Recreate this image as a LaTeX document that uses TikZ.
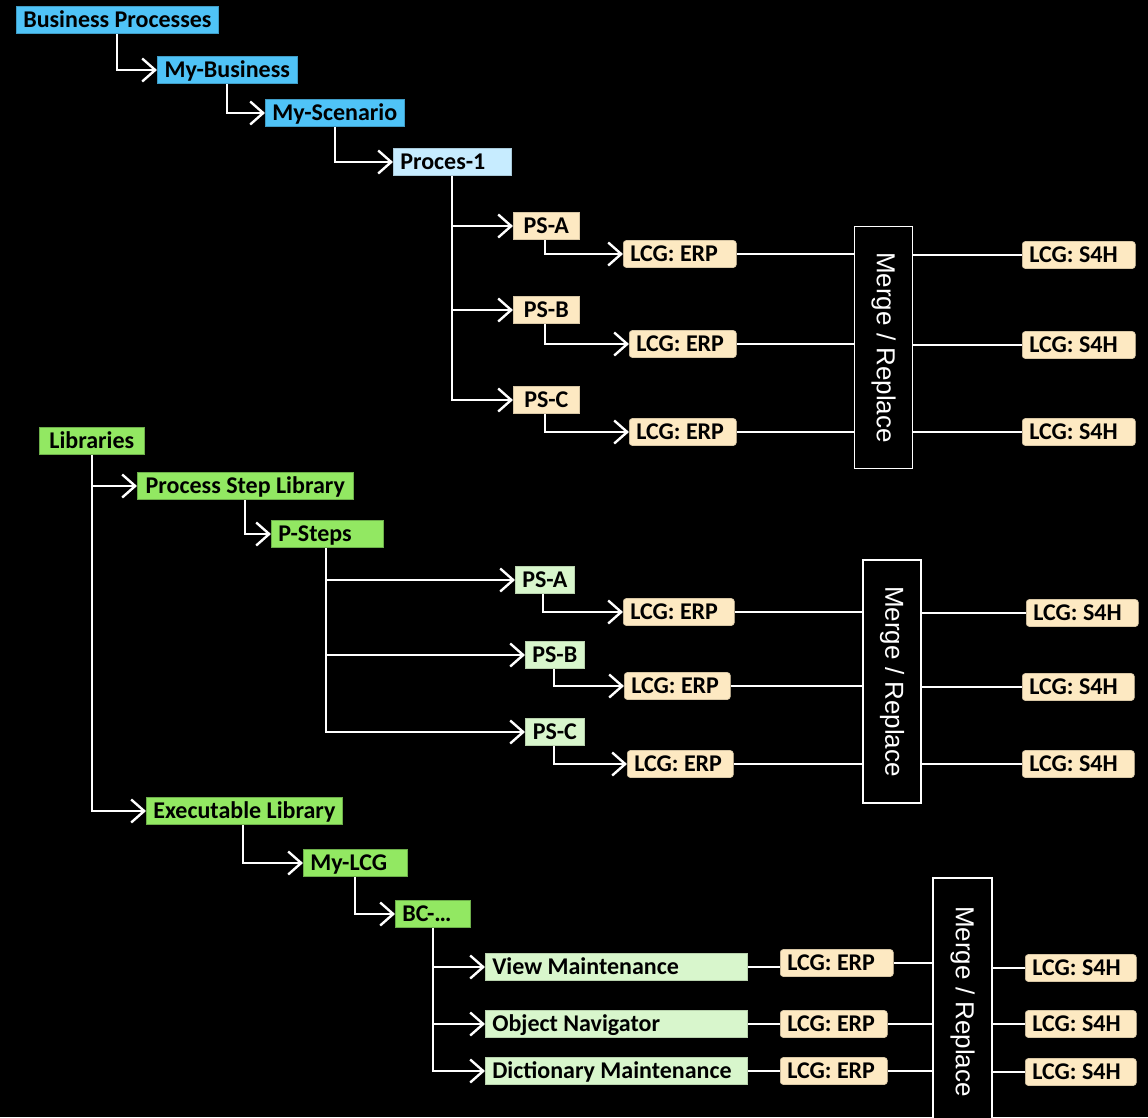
\documentclass[tikz,border=0pt]{standalone}
\usepackage{fontspec}
\setmainfont{Carlito}
\newfontfamily\arialfont{Liberation Sans}
\usepackage{graphicx}
\usetikzlibrary{arrows.meta}
\definecolor{bpblue}{RGB}{79,195,247}
\definecolor{proclight}{RGB}{199,236,255}
\definecolor{libgreen}{RGB}{146,232,98}
\definecolor{steplight}{RGB}{216,246,204}
\definecolor{lcgorange}{RGB}{253,233,194}
\tikzset{box/.style={anchor=west, inner xsep=7pt, inner ysep=0pt,
   minimum height=27pt, text height=17pt, text depth=2pt, line width=0.6pt,
   font=\bfseries\fontsize{24}{28}\selectfont},
 lw/.style={text width=#1, align=flush left},
 bpbox/.style={box, fill=bpblue, draw=bpblue!80!black},
 procbox/.style={box, fill=proclight, draw=proclight!85!black},
 libbox/.style={box, fill=libgreen, draw=libgreen!75!black},
 stepbox/.style={box, fill=steplight, draw=steplight!85!black},
 psbox/.style={box, fill=lcgorange, draw=lcgorange!85!black},
 lcgbox/.style={box, fill=lcgorange, draw=lcgorange!85!black, rounded corners=3pt},
 mergebox/.style={draw=white, line width=1.2pt, fill=black, text=white, inner sep=0pt,
   font=\arialfont\fontsize{26}{30}\selectfont},
 arr/.style={draw=white, line width=2.4pt, -{Straight Barb[length=13pt,width=23pt,line width=2.4pt]}},
 ln/.style={draw=white, line width=1.6pt},
 }
\exhyphenpenalty=10000
\frenchspacing
\begin{document}
\begin{tikzpicture}[x=1pt, y=-1pt]
    \useasboundingbox (0,0) rectangle (1148,1117);
    \fill[black] (0,0) rectangle (1148,1117);
    \clip (0,0) rectangle (1148,1117);

    % business processes
    \node[bpbox, minimum width=202pt] (bp) at (16,20) {Business Processes};
    \node[bpbox, minimum width=140pt] (mybus) at (157,70) {My-Business};
    \node[bpbox, minimum width=139pt] (myscen) at (265,113) {My-Scenario};
    \node[procbox, lw=104pt] (proc) at (393,162) {Proces-1};
    \node[psbox, minimum width=66pt] (psa1) at (513,226) {PS-A};
    \node[psbox, minimum width=66pt] (psb1) at (513,310) {PS-B};
    \node[psbox, minimum width=66pt] (psc1) at (513,400) {PS-C};
    \node[lcgbox, lw=99pt] (erpa1) at (623,254) {LCG: ERP};
    \node[lcgbox, lw=93pt] (erpb1) at (629,344) {LCG: ERP};
    \node[lcgbox, lw=93pt] (erpc1) at (629,432) {LCG: ERP};
    \node[mergebox, minimum width=58pt, minimum height=242pt] (mr1) at (883.5,347.5) {\rotatebox{-90}{Merge / Replace}};
    \node[lcgbox, lw=99pt] (s4ha1) at (1022,255) {LCG: S4H};
    \node[lcgbox, lw=99pt] (s4hb1) at (1022,345) {LCG: S4H};
    \node[lcgbox, lw=99pt] (s4hc1) at (1022,432) {LCG: S4H};

    \draw[arr] ([xshift=101pt]bp.south west) |- (mybus.west);
    \draw[arr] ([xshift=70pt]mybus.south west) |- (myscen.west);
    \draw[arr] ([xshift=70pt]myscen.south west) |- (proc.west);
    \foreach \ps in {psa1, psb1, psc1} {
        \draw[arr] ([xshift=59pt]proc.south west) |- (\ps.west);
    }
    \draw[arr] ([xshift=32pt]psa1.south west) |- (erpa1.west);
    \draw[arr] ([xshift=32pt]psb1.south west) |- (erpb1.west);
    \draw[arr] ([xshift=32pt]psc1.south west) |- (erpc1.west);

    % libraries
    \node[libbox, minimum width=105pt] (lib) at (39,441) {Libraries};
    \node[libbox, minimum width=216pt] (psl) at (137,486) {Process Step Library};
    \node[libbox, lw=98pt] (psteps) at (271,534) {P-Steps};
    \node[stepbox, minimum width=58pt] (psa2) at (515,580) {PS-A};
    \node[stepbox, minimum width=59pt] (psb2) at (525,655) {PS-B};
    \node[stepbox, minimum width=59pt] (psc2) at (525,732) {PS-C};
    \node[lcgbox, lw=97pt] (erpa2) at (623,612) {LCG: ERP};
    \node[lcgbox, lw=92pt] (erpb2) at (624,686) {LCG: ERP};
    \node[lcgbox, lw=92pt] (erpc2) at (627,764) {LCG: ERP};
    \node[mergebox, minimum width=58pt, minimum height=243pt] (mr2) at (892,681.5) {\rotatebox{-90}{Merge / Replace}};
    \node[lcgbox, lw=98pt] (s4ha2) at (1026,613) {LCG: S4H};
    \node[lcgbox, lw=98pt] (s4hb2) at (1022,687) {LCG: S4H};
    \node[lcgbox, lw=98pt] (s4hc2) at (1022,764) {LCG: S4H};

    \draw[arr] ([xshift=53pt]lib.south west) |- (psl.west);
    \draw[arr] ([xshift=108pt]psl.south west) |- (psteps.west);
    \foreach \ps in {psa2, psb2, psc2} {
        \draw[arr] ([xshift=55pt]psteps.south west) |- (\ps.west);
    }
    \draw[arr] ([xshift=28pt]psa2.south west) |- (erpa2.west);
    \draw[arr] ([xshift=29pt]psb2.south west) |- (erpb2.west);
    \draw[arr] ([xshift=29pt]psc2.south west) |- (erpc2.west);

    % executable library
    \node[libbox, minimum width=194pt] (exec) at (146,811) {Executable Library};
    \node[libbox, lw=90pt] (mylcg) at (303,863) {My-LCG};
    \node[libbox, lw=61pt] (bc) at (395,914) {BC-…};
    \node[stepbox, lw=248pt] (vm) at (485,967) {View Maintenance};
    \node[stepbox, lw=248pt] (on) at (485,1024) {Object Navigator};
    \node[stepbox, lw=248pt] (dm) at (485,1071) {Dictionary Maintenance};
    \node[lcgbox, lw=99pt] (erpv) at (780,963) {LCG: ERP};
    \node[lcgbox, lw=93pt] (erpo) at (780,1024) {LCG: ERP};
    \node[lcgbox, lw=93pt] (erpd) at (780,1071) {LCG: ERP};
    \node[mergebox, minimum width=59pt, minimum height=247pt] (mr3) at (962.5,1001.5) {\rotatebox{-90}{Merge / Replace}};
    \node[lcgbox, lw=97pt] (s4hv) at (1025,968) {LCG: S4H};
    \node[lcgbox, lw=97pt] (s4ho) at (1025,1024) {LCG: S4H};
    \node[lcgbox, lw=97pt] (s4hd) at (1025,1072) {LCG: S4H};

    \draw[arr] ([xshift=53pt]lib.south west) |- (exec.west);
    \draw[arr] ([xshift=97pt]exec.south west) |- (mylcg.west);
    \draw[arr] ([xshift=52pt]mylcg.south west) |- (bc.west);
    \foreach \ex in {vm, on, dm} {
        \draw[arr] ([xshift=38pt]bc.south west) |- (\ex.west);
    }
    \foreach \ex/\erp in {vm/erpv, on/erpo, dm/erpd} {
        \draw[ln] (\ex.east) -- (\ex.east -| \erp.west);
    }

    % lines through the merge boxes
    \foreach \erp/\sfh/\mr in {erpa1/s4ha1/mr1, erpb1/s4hb1/mr1, erpc1/s4hc1/mr1,
        erpa2/s4ha2/mr2, erpb2/s4hb2/mr2, erpc2/s4hc2/mr2,
        erpv/s4hv/mr3, erpo/s4ho/mr3, erpd/s4hd/mr3} {
        \draw[ln] (\erp.east) -- (\erp.east -| \mr.west);
        \draw[ln] (\mr.east |- \sfh.west) -- (\sfh.west);
    }
\end{tikzpicture}
\end{document}
